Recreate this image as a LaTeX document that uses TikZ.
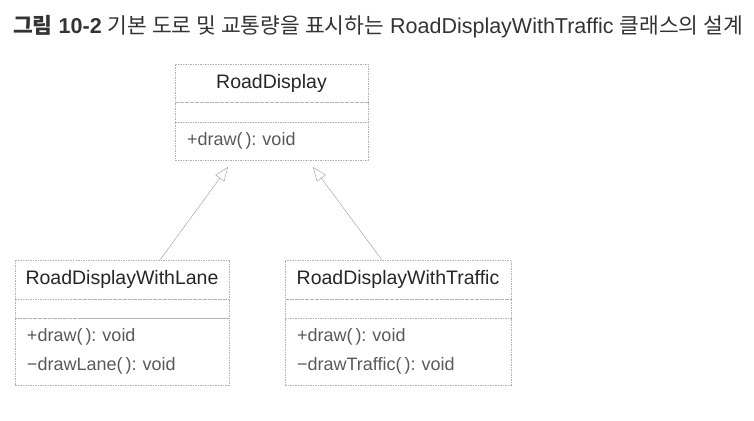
\documentclass[tikz,border=0pt]{standalone}
\usepackage{fontspec}
\setmainfont{Liberation Sans}
\newfontfamily\cjk{Noto Sans CJK KR}
\usetikzlibrary{positioning,arrows.meta}
\frenchspacing

\begin{document}
\begin{tikzpicture}[x=1pt,y=1pt,
        classname/.style={rectangle, draw=black!30, dash pattern=on 1.5pt off 1pt, inner sep=0pt, outer sep=0pt,
            minimum height=38pt, text=black!85, font=\fontsize{19.5}{22}\selectfont},
        classattr/.style={rectangle, draw=black!30, dash pattern=on 1.5pt off 1pt, inner sep=0pt, outer sep=0pt,
            minimum height=20pt},
        classops/.style={rectangle, draw=black!30, dash pattern=on 1.5pt off 1pt, inner ysep=0pt, inner xsep=12pt,
            outer sep=0pt, align=left, text=black!65, font=\fontsize{18}{29}\selectfont},
        inherit/.style={draw=black!40, solid, -{Triangle[open, length=14pt, width=11pt, fill=white]}},
        ]
        \useasboundingbox (0,0) rectangle (754,420);

        % title
        \node (title) at (13,386) [anchor=base west, inner sep=0pt, text=black!80,
            font=\fontsize{21.5}{24}\selectfont]
            {{\bfseries\cjk 그림} {\bfseries 10-2} {\cjk 기본 도로 및 교통량을 표시하는} RoadDisplayWithTraffic {\cjk 클래스의 설계}};

        % RoadDisplay
        \node (roaddisplay) at (271.5,356) [classname, anchor=north, minimum width=193pt] {RoadDisplay};
        \node (roaddisplay-attr) [classattr, below=0pt of roaddisplay, minimum width=193pt] {};
        \node (roaddisplay-ops) [classops, below=0pt of roaddisplay-attr, text width=169pt, minimum height=38pt]
            {+draw(\,): void};

        % RoadDisplayWithLane
        \node (lane) at (122,160) [classname, anchor=north, minimum width=214pt, minimum height=39pt] {RoadDisplayWithLane};
        \node (lane-attr) [classattr, below=0pt of lane, minimum width=214pt, minimum height=19pt] {};
        \node (lane-ops) [classops, below=0pt of lane-attr, text width=190pt, minimum height=67pt]
            {+draw(\,): void\\−drawLane(\,): void};

        % RoadDisplayWithTraffic
        \node (traffic) at (398,160) [classname, anchor=north, minimum width=226pt, minimum height=39pt] {RoadDisplayWithTraffic};
        \node (traffic-attr) [classattr, below=0pt of traffic, minimum width=226pt, minimum height=19pt] {};
        \node (traffic-ops) [classops, below=0pt of traffic-attr, text width=202pt, minimum height=67pt]
            {+draw(\,): void\\−drawTraffic(\,): void};

        \draw[inherit] ([xshift=38pt]lane.north) -- ([xshift=-43.5pt, yshift=-7pt]roaddisplay-ops.south);
        \draw[inherit] ([xshift=-16pt]traffic.north) -- ([xshift=41.5pt, yshift=-7pt]roaddisplay-ops.south);
    \end{tikzpicture}
\end{document}
